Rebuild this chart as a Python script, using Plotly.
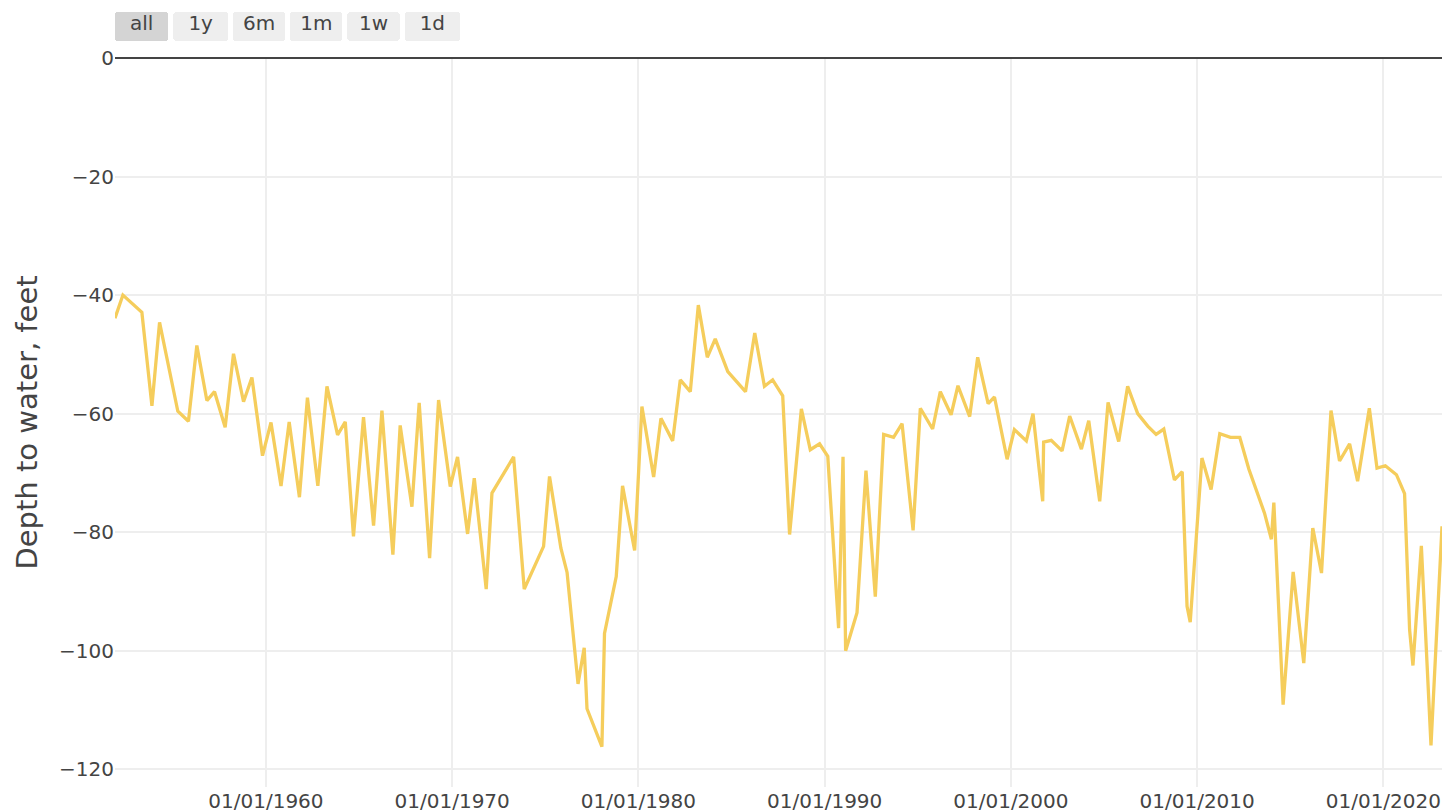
import plotly.graph_objects as go

dates = [
    "1951-11-24", "1952-04-27", "1953-05-04", "1953-11-17", "1954-04-16", "1955-04-09", "1955-11-03",
    "1956-04-16", "1956-10-30", "1957-03-29", "1957-10-23", "1958-04-05", "1958-10-19", "1959-04-01",
    "1959-10-26", "1960-04-09", "1960-10-23", "1961-04-01", "1961-10-19", "1962-03-25", "1962-10-15",
    "1963-04-12", "1963-11-06", "1964-04-05", "1964-09-13", "1965-03-29", "1965-10-12", "1966-03-25",
    "1966-10-26", "1967-03-18", "1967-11-03", "1968-03-25", "1968-10-15", "1969-04-09", "1969-11-24",
    "1970-04-16", "1970-10-30", "1971-03-10", "1971-10-30", "1972-02-20", "1973-04-20", "1973-11-14",
    "1974-11-28", "1975-03-25", "1975-11-03", "1976-03-03", "1976-10-04", "1977-02-02", "1977-03-29",
    "1978-01-15", "1978-03-07", "1978-10-23", "1979-02-24", "1979-10-19", "1980-03-10", "1980-10-26",
    "1981-03-18", "1981-11-03", "1982-04-01", "1982-10-15", "1983-03-21", "1983-09-13", "1984-02-16",
    "1984-10-19", "1985-10-01", "1986-04-01", "1986-10-08", "1987-03-18", "1987-10-01", "1988-02-13",
    "1988-10-01", "1989-03-25", "1989-09-23", "1990-03-03", "1990-10-01", "1990-12-27", "1991-02-16",
    "1991-09-27", "1992-03-21", "1992-09-20", "1993-03-03", "1993-09-13", "1994-02-27", "1994-10-01",
    "1995-02-20", "1995-10-19", "1996-03-18", "1996-10-15", "1997-02-27", "1997-10-15", "1998-03-21",
    "1998-10-12", "1999-02-13", "1999-10-19", "2000-03-10", "2000-10-30", "2001-03-10", "2001-09-16",
    "2001-10-04", "2002-03-03", "2002-10-01", "2003-02-27", "2003-10-15", "2004-03-07", "2004-10-08",
    "2005-03-21", "2005-10-15", "2006-04-09", "2006-10-23", "2007-05-08", "2007-10-19", "2008-03-18",
    "2008-10-12", "2009-03-14", "2009-06-17", "2009-08-18", "2010-04-05", "2010-10-01", "2011-03-21",
    "2011-10-15", "2012-04-16", "2012-10-12", "2013-08-14", "2013-12-27", "2014-02-13", "2014-08-14",
    "2015-02-27", "2015-09-23", "2016-03-18", "2016-09-05", "2017-03-10", "2017-08-25", "2018-03-10",
    "2018-08-14", "2019-04-01", "2019-08-29", "2020-02-09", "2020-09-13", "2021-02-20", "2021-05-30",
    "2021-08-03", "2022-01-15", "2022-07-23", "2023-02-24",
]

depth = [
    -43.9, -40.0, -42.9, -58.7, -44.6, -59.6, -61.3,
    -48.5, -57.8, -56.3, -62.3, -49.9, -58.0, -53.9,
    -67.1, -61.5, -72.2, -61.4, -74.1, -57.3, -72.2,
    -55.4, -63.6, -61.4, -80.7, -60.6, -78.9, -59.5,
    -83.8, -62.0, -75.7, -58.2, -84.4, -57.7, -72.3,
    -67.3, -80.3, -70.9, -89.6, -73.4, -67.3, -89.6,
    -82.4, -70.6, -82.7, -86.8, -105.6, -99.5, -109.8,
    -116.2, -97.1, -87.5, -72.2, -83.1, -58.8, -70.7,
    -60.8, -64.6, -54.3, -56.3, -41.7, -50.5, -47.4,
    -52.9, -56.3, -46.4, -55.4, -54.3, -57.0, -80.4,
    -59.2, -66.1, -65.1, -67.2, -96.2, -67.3, -100.0,
    -93.6, -69.6, -90.9, -63.5, -64.0, -61.7, -79.7,
    -59.1, -62.6, -56.3, -60.2, -55.3, -60.5, -50.5,
    -58.3, -57.2, -67.7, -62.7, -64.6, -60.0, -74.8,
    -64.8, -64.5, -66.3, -60.4, -66.0, -61.2, -74.8,
    -58.1, -64.7, -55.4, -60.0, -62.1, -63.5, -62.6,
    -71.2, -69.8, -92.5, -95.2, -67.5, -72.8, -63.4,
    -64.0, -64.0, -69.4, -76.8, -81.2, -75.0, -109.1,
    -86.7, -102.1, -79.3, -86.9, -59.5, -68.0, -65.1,
    -71.4, -59.1, -69.2, -68.8, -70.3, -73.5, -96.5,
    -102.5, -82.3, -116.0, -79.0,
]

y_range = [-123, 0]
y_ticks = [-120, -100, -80, -60, -40, -20, 0]
button_labels = ["\u2002all\u2002", "\u20021y\u2002", "\u20056m\u2005", "\u20051m\u2005", "\u20041w\u2004", "\u20021d\u2002"]

FONT = "DejaVu Sans, Verdana, sans-serif"
W, H = 1445, 812
M = dict(l=115, r=3, t=58, b=25, pad=0)
plot_h = H - M["t"] - M["b"]

fig = go.Figure()
fig.add_trace(go.Scatter(
    x=dates, y=depth, mode="lines",
    line=dict(color="#f5cd5c", width=3.3),
    name="Depth to water",
    showlegend=False,
))

fig.update_layout(
    template="none",
    width=W, height=H,
    margin=M,
    paper_bgcolor="white",
    plot_bgcolor="white",
    font=dict(family=FONT, size=20, color="#444"),
    showlegend=False,
    xaxis=dict(
        type="date",
        autorange=True,
        tickformat="%m/%d/%Y",
        tick0="1960-01-01",
        dtick="M120",
        showgrid=True,
        gridcolor="#eeeeee",
        gridwidth=1.66,
        zeroline=False,
        showline=False,
        ticks="",
        tickfont=dict(size=20, color="#444"),
        rangeselector=dict(
            buttons=[
                dict(step="all", label=button_labels[0]),
                dict(count=1, label=button_labels[1], step="year", stepmode="backward"),
                dict(count=6, label=button_labels[2], step="month", stepmode="backward"),
                dict(count=1, label=button_labels[3], step="month", stepmode="backward"),
                dict(count=7, label=button_labels[4], step="day", stepmode="backward"),
                dict(count=1, label=button_labels[5], step="day", stepmode="backward"),
            ],
            x=0, xanchor="left",
            y=1 + 17 / plot_h, yanchor="bottom",
            bgcolor="#eeeeee",
            activecolor="#d4d4d4",
            font=dict(family=FONT, size=20, color="#444"),
        ),
    ),
    yaxis=dict(
        range=y_range,
        autorange=False,
        tickvals=y_ticks,
        showgrid=True,
        gridcolor="#eeeeee",
        gridwidth=1.66,
        zeroline=True,
        zerolinecolor="#444",
        zerolinewidth=1.66,
        showline=False,
        ticks="",
        tickfont=dict(size=20, color="#444"),
        title=dict(text="Depth to water, feet", standoff=12,
                   font=dict(family=FONT, size=29, color="#444")),
    ),
)

fig.write_html(
    "out.html",
    config={"displayModeBar": False},
    post_script="document.body.style.margin='0';document.body.style.overflow='hidden';",
)
